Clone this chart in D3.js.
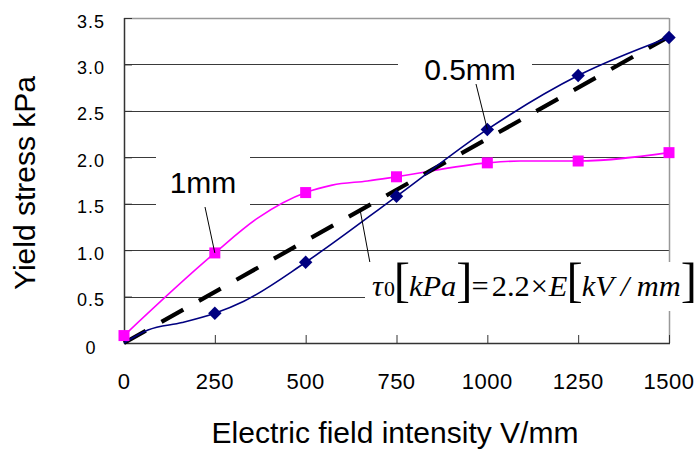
<!DOCTYPE html>
<html>
<head>
<meta charset="utf-8">
<script src="https://cdn.jsdelivr.net/npm/d3@7/dist/d3.min.js"></script>
<style>
  html, body { margin: 0; padding: 0; background: #fff; }
  svg { display: block; }
</style>
</head>
<body>
<svg id="chart" width="699" height="450"></svg>
<script>
// ---------------- data ----------------
const fieldE      = [0, 250, 500, 750, 1000, 1250, 1500];           // V/mm
const stress1mm   = [0.08, 0.97, 1.62, 1.79, 1.94, 1.96, 2.05];     // kPa
const stress05mm  = [0, 0.32, 0.87, 1.58, 2.30, 2.88, 3.29];        // kPa
// drawn curve vertices (as traced in the picture)
const curve1mmE   = [0, 250, 370, 500, 573, 670, 750, 1000, 1090, 1250, 1500];
const curve1mmY   = [0.08, 0.97, 1.35, 1.62, 1.70, 1.745, 1.79, 1.94, 1.96, 1.96, 2.05];
const curve05mmE  = [0, 66, 160, 250, 330, 500, 750, 1000, 1250, 1500];
const curve05mmY  = [0, 0.14, 0.22, 0.32, 0.45, 0.87, 1.58, 2.30, 2.88, 3.29];
// fitted line tau0 = 2.2 * E[kV/mm]
const fitE        = [0, 1500];
const fitY        = [0, 3.3];
const xTicks      = [0, 250, 500, 750, 1000, 1250, 1500];
const yTicks      = [0, 0.5, 1.0, 1.5, 2.0, 2.5, 3.0, 3.5];
const yTickLabels = ["0", "0.5", "1.0", "1.5", "2.0", "2.5", "3.0", "3.5"];
const label1mm    = "1mm";
const label05mm   = "0.5mm";
const xTitle      = "Electric field intensity V/mm";
const yTitle      = "Yield stress kPa";

// ---------------- layout ----------------
const svg = d3.select("#chart");
const L = 124, R = 669, T = 18, B = 343;
const x = d3.scaleLinear().domain([0, 1500]).range([L, R]);
const y = d3.scaleLinear().domain([0, 3.5]).range([B, T]);
const sans = "'Liberation Sans', Arial, sans-serif";
const serif = "'Liberation Serif', 'Times New Roman', serif";

svg.append("rect").attr("width", 699).attr("height", 450).attr("fill", "#fff");

// gridlines
svg.append("g").selectAll("line").data(yTicks.filter(v => v > 0 && v < 3.5)).join("line")
  .attr("x1", L).attr("x2", R).attr("y1", d => Math.round(y(d)) + 0.5).attr("y2", d => Math.round(y(d)) + 0.5)
  .attr("stroke", "#3a3a3a").attr("stroke-width", 1);
// top / right border
svg.append("line").attr("x1", L).attr("x2", R).attr("y1", T + 0.5).attr("y2", T + 0.5).attr("stroke", "#999").attr("stroke-width", 1.5);
svg.append("line").attr("x1", R + 0.5).attr("x2", R + 0.5).attr("y1", T).attr("y2", B).attr("stroke", "#999").attr("stroke-width", 1.5);

// axes (ticks pointing inward)
const xAxis = d3.axisTop(x).tickValues(xTicks).tickSize(8).tickFormat("");
svg.append("g").attr("transform", `translate(0,${B})`).call(xAxis)
  .call(g => g.select(".domain").remove())
  .call(g => g.selectAll(".tick line").attr("stroke", "#333").attr("stroke-width", 1));
const yAxis = d3.axisRight(y).tickValues(yTicks).tickSize(8).tickFormat("");
svg.append("g").attr("transform", `translate(${L},0)`).call(yAxis)
  .call(g => g.select(".domain").remove())
  .call(g => g.selectAll(".tick line").attr("stroke", "#333").attr("stroke-width", 1));
svg.append("line").attr("x1", L).attr("x2", R + 1).attr("y1", B + 0.5).attr("y2", B + 0.5).attr("stroke", "#333").attr("stroke-width", 1.5);
svg.append("line").attr("x1", L + 0.5).attr("x2", L + 0.5).attr("y1", T).attr("y2", B + 1).attr("stroke", "#333").attr("stroke-width", 1.5);

// tick labels
svg.append("g").selectAll("text").data(xTicks).join("text")
  .attr("x", d => x(d)).attr("y", 389).attr("text-anchor", "middle")
  .attr("font-family", sans).attr("font-size", 22).attr("letter-spacing", 0.5).attr("fill", "#000")
  .text(d => d);
svg.append("g").selectAll("text").data(yTicks).join("text")
  .attr("x", 91).attr("y", d => y(d) + (d === 0 ? 11 : 9.5)).attr("text-anchor", "middle")
  .attr("font-family", sans).attr("font-size", 18).attr("letter-spacing", 1).attr("fill", "#000")
  .text((d, i) => yTickLabels[i]);

// axis titles
svg.append("text").attr("x", 395).attr("y", 443).attr("text-anchor", "middle")
  .attr("font-family", sans).attr("font-size", 30).attr("fill", "#000").text(xTitle);
svg.append("text").attr("transform", "translate(35,183) rotate(-90)").attr("text-anchor", "middle")
  .attr("font-family", sans).attr("font-size", 30).attr("fill", "#000").text(yTitle);

// ---------------- series ----------------
const line = d3.line().x(d => x(d[0])).y(d => y(d[1])).curve(d3.curveMonotoneX);
const pinkPts = curve1mmE.map((e, i) => [e, curve1mmY[i]]);
const navyPts = curve05mmE.map((e, i) => [e, curve05mmY[i]]);
const fitPts  = fitE.map((e, i) => [e, fitY[i]]);

svg.append("path").attr("d", line(pinkPts)).attr("fill", "none").attr("stroke", "#ff00ff").attr("stroke-width", 1.6);
svg.append("path").attr("d", d3.line().x(d => x(d[0])).y(d => y(d[1]))(fitPts))
  .attr("fill", "none").attr("stroke", "#000").attr("stroke-width", 4.2).attr("stroke-dasharray", "25,18");
svg.append("path").attr("d", line(navyPts)).attr("fill", "none").attr("stroke", "#000080").attr("stroke-width", 1.6);

// markers
svg.append("g").selectAll("rect").data(fieldE.map((e, i) => [e, stress1mm[i]])).join("rect")
  .attr("x", d => x(d[0]) - 5.5).attr("y", d => y(d[1]) - 5.5).attr("width", 11).attr("height", 11)
  .attr("fill", "#ff00ff");
const diamond = d3.symbol().type(d3.symbolDiamond2).size(115);
svg.append("g").selectAll("path").data(fieldE.map((e, i) => [e, stress05mm[i]]).filter(d => d[1] > 0)).join("path")
  .attr("transform", d => `translate(${x(d[0])},${y(d[1])})`).attr("d", diamond).attr("fill", "#000080");

// ---------------- annotations ----------------
function leader(x1, y1, e, v) {
  svg.append("line").attr("x1", x1).attr("y1", y1).attr("x2", x(e)).attr("y2", y(v))
    .attr("stroke", "#000").attr("stroke-width", 1);
}
// 1mm label
leader(205, 207, fieldE[1], stress1mm[1]);
svg.append("rect").attr("x", 156).attr("y", 150).attr("width", 94).attr("height", 56).attr("fill", "#fff");
svg.append("text").attr("x", 203).attr("y", 193).attr("text-anchor", "middle")
  .attr("font-family", sans).attr("font-size", 30).attr("fill", "#000").text(label1mm);
// 0.5mm label
leader(476, 84, fieldE[4], stress05mm[4]);
svg.append("rect").attr("x", 398).attr("y", 44).attr("width", 134).attr("height", 40).attr("fill", "#fff");
svg.append("text").attr("x", 470).attr("y", 80).attr("text-anchor", "middle")
  .attr("font-family", sans).attr("font-size", 30).attr("fill", "#000").text(label05mm);
// formula label
leader(370, 263, 650, 2.2 * 0.650);
svg.append("rect").attr("x", 365).attr("y", 262).attr("width", 334).attr("height", 49).attr("fill", "#fff");
const ft = svg.append("text").attr("x", 372).attr("y", 296).attr("font-family", serif).attr("fill", "#000");
function buildFormula(F) {
  ft.selectAll("*").remove();
  const parts = [
    ["τ", F, "italic", 0], ["0", F * 0.72, "normal", 1], ["[", F * 1.6, "normal", -1],
    ["kPa", F, "italic", -1], ["]", F * 1.6, "normal", 0], ["=", F, "normal", -1],
    ["2.2", F, "normal", 3], ["×", F, "normal", 1], ["E", F, "italic", 1],
    ["[", F * 1.6, "normal", -1], ["kV / mm", F, "italic", -1], ["]", F * 1.6, "normal", 0]
  ];
  parts.forEach(p => ft.append("tspan").attr("font-size", p[1]).attr("font-style", p[2]).attr("dx", p[3]).text(p[0]));
}
buildFormula(32);
const w = ft.node().getBBox().width;
buildFormula(32 * 325 / w);
</script>
</body>
</html>
